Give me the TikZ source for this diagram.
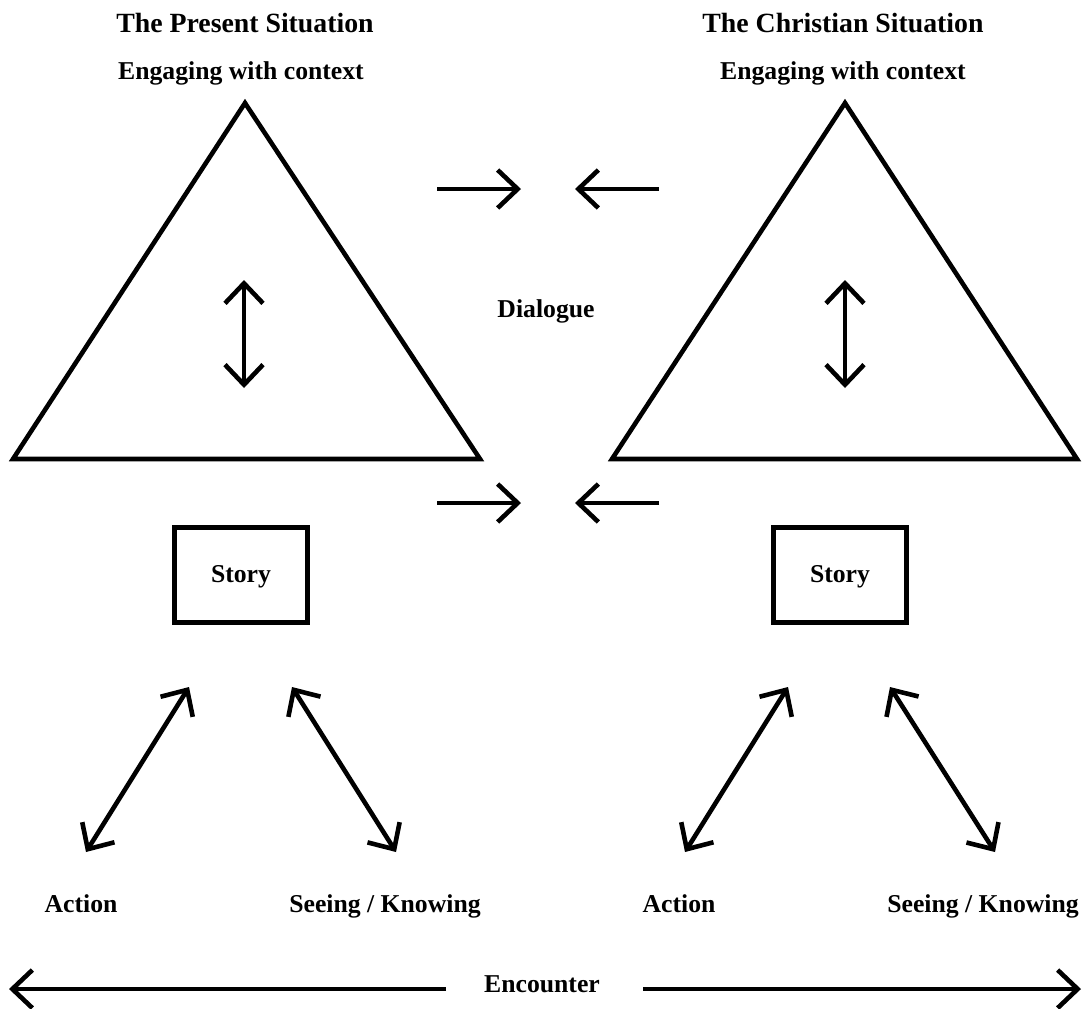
\documentclass[tikz,border=0pt]{standalone}
\usepackage{fontspec}
\setmainfont{Liberation Serif}
\usetikzlibrary{arrows.meta}

\begin{document}
\begin{tikzpicture}[
x=0.5pt, y=-0.5pt,
line width=2.3pt,
every node/.style={
font=\bfseries\fontsize{12.85}{15}\selectfont,
anchor=base,
inner sep=0pt
},
sittitle/.style={
font=\bfseries\fontsize{13.9}{16}\selectfont
},
storybox/.style={
draw,
anchor=center,
minimum width=66.5pt,
minimum height=47.5pt
},
barb/.style={
arrows={Straight Barb[length=10pt,width=19pt]-Straight Barb[length=10pt,width=19pt]}
},
onebarb/.style={
arrows={-Straight Barb[length=10pt,width=19pt]}
}
]

\useasboundingbox (0,0) rectangle (1087,1008);

% left side
\node[sittitle] (PS) at (245,32)
{The Present Situation};

\node (PE) at (241,79)
{Engaging with context};

\coordinate (PA) at (245,103);
\coordinate (PL) at (13,459);
\coordinate (PR) at (480,459);
\draw[line join=miter] (PA) -- (PL) -- (PR) -- cycle;

\coordinate (PUp) at (244,280);
\coordinate (PDown) at (244,388);
\draw[barb] (PUp) -- (PDown);

\node[storybox] (PStory) at (241,575) {};
\node (PStoryT) at (241,582)
{Story};

\coordinate (PS1) at (189,687);
\coordinate (PAct) at (86,852);
\coordinate (PS2) at (292,687);
\coordinate (PSee) at (396,852);
\draw[barb] (PS1) -- (PAct);
\draw[barb] (PS2) -- (PSee);

\node (PActT) at (81,912)
{Action};
\node (PSeeT) at (385,912)
{Seeing / Knowing};

% right side
\node[sittitle] (CS) at (843,32)
{The Christian Situation};

\node (CE) at (843,79)
{Engaging with context};

\coordinate (CA) at (845,103);
\coordinate (CL) at (612,459);
\coordinate (CR) at (1077,459);
\draw[line join=miter] (CA) -- (CL) -- (CR) -- cycle;

\coordinate (CUp) at (845,280);
\coordinate (CDown) at (845,388);
\draw[barb] (CUp) -- (CDown);

\node[storybox] (CStory) at (840,575) {};
\node (CStoryT) at (840,582)
{Story};

\coordinate (CS1) at (788,687);
\coordinate (CAct) at (685,852);
\coordinate (CS2) at (890,687);
\coordinate (CSee) at (995,852);
\draw[barb] (CS1) -- (CAct);
\draw[barb] (CS2) -- (CSee);

\node (CActT) at (679,912)
{Action};
\node (CSeeT) at (983,912)
{Seeing / Knowing};

% middle
\node (D) at (546,317)
{Dialogue};

\coordinate (T1) at (437,189);
\coordinate (T2) at (521,189);
\coordinate (T3) at (659,189);
\coordinate (T4) at (575,189);
\draw[onebarb] (T1) -- (T2);
\draw[onebarb] (T3) -- (T4);

\coordinate (B1) at (437,503);
\coordinate (B2) at (521,503);
\coordinate (B3) at (659,503);
\coordinate (B4) at (575,503);
\draw[onebarb] (B1) -- (B2);
\draw[onebarb] (B3) -- (B4);

% encounter
\node (E) at (542,992)
{Encounter};
\coordinate (EL) at (9,989);
\coordinate (ELm) at (446,989);
\coordinate (ERm) at (643,989);
\coordinate (ER) at (1081,989);
\draw[onebarb] (ELm) -- (EL);
\draw[onebarb] (ERm) -- (ER);

\end{tikzpicture}
\end{document}
